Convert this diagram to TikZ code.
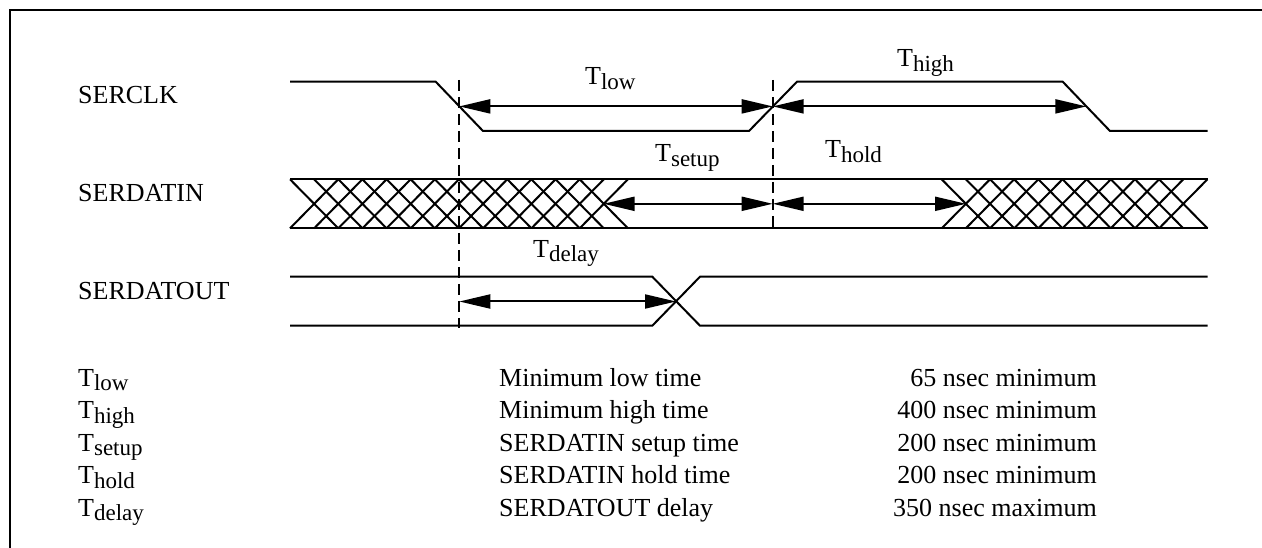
\documentclass[tikz,border=0pt]{standalone}
\usepackage{fontspec}
\setmainfont{Liberation Serif}
\usetikzlibrary{arrows.meta}
\newcommand{\Tsb}[1]{T\raisebox{-4.5pt}{\fontsize{23}{23}\selectfont #1}}
\begin{document}
\begin{tikzpicture}[x=1pt,y=-1pt,
  wave/.style={line width=2pt, line join=miter},
  guide/.style={line width=2pt, dash pattern=on 11pt off 6pt},
  dimarrow/.style={line width=2pt, {Triangle[length=31pt,width=14pt]}-{Triangle[length=31pt,width=14pt]}},
  lbl/.style={font=\fontsize{26}{30}\selectfont, inner sep=0pt, anchor=base west},
  rlbl/.style={font=\fontsize{26}{30}\selectfont, inner sep=0pt, anchor=base east},
  frameline/.style={line width=2.5pt}]
\useasboundingbox (0,0) rectangle (1262,548);
\begin{scope}
\clip (0,0) rectangle (1262,548);
\draw[frameline] (10,600) -- (10,10) -- (1300,10);
\end{scope}

% signal names
\node[lbl] (nclk) at (78,104) {SERCLK};
\node[lbl] (ndin) at (78,202) {SERDATIN};
\node[lbl] (ndout) at (78,299.5) {SERDATOUT};

% SERCLK
\draw[wave] (290,81.7) -- (435.7,81.7) -- (483,131) -- (749,131) -- (797,81.7) -- (1062.7,81.7) -- (1110,131) -- (1207.5,131);

% SERDATIN bus
\draw[wave] (290,179.3) -- (1207.5,179.3);
\draw[wave] (290,228.3) -- (1207.5,228.3);
\foreach \k in {0,...,12} {
  \draw[wave] ({290+\k*24.14},179.3) -- ({290+(\k+2)*24.14},228.3);
  \draw[wave] ({290+\k*24.14},228.3) -- ({290+(\k+2)*24.14},179.3);
}
\foreach \k in {0,...,9} {
  \draw[wave] ({941.7+\k*24.16},179.3) -- ({941.7+(\k+2)*24.16},228.3);
  \draw[wave] ({941.7+\k*24.16},228.3) -- ({941.7+(\k+2)*24.16},179.3);
}

% SERDATOUT
\draw[wave] (290,276.7) -- (652.3,276.7) -- (700,325.7) -- (1207.5,325.7);
\draw[wave] (290,325.7) -- (652.3,325.7) -- (700,276.7) -- (1207.5,276.7);

% guides
\coordinate (d1top) at (459.3,80);
\coordinate (d1bot) at (459.3,328);
\coordinate (d2top) at (772.7,80);
\coordinate (d2bot) at (772.7,229);
\draw[guide] (d1top) -- (d1bot);
\draw[guide] (d2top) -- (d2bot);

% arrow end points
\coordinate (cfall1) at (459.3,106.4);
\coordinate (crise) at (772.7,106.4);
\coordinate (cfall2) at (1086.4,106.4);
\coordinate (dinA) at (603.6,203.8);
\coordinate (dinB) at (772.7,203.8);
\coordinate (dinC) at (966,203.8);
\coordinate (doutA) at (459.3,301.5);
\coordinate (doutB) at (676,301.5);
\draw[dimarrow] (cfall1) -- (crise);
\draw[dimarrow] (crise) -- (cfall2);
\draw[dimarrow] (dinA) -- (dinB);
\draw[dimarrow] (dinB) -- (dinC);
\draw[dimarrow] (doutA) -- (doutB);

% timing labels
\node[lbl] (ltlow) at (585,85) {\Tsb{low}};
\node[lbl] (lthigh) at (897,66.7) {\Tsb{high}};
\node[lbl] (ltsetup) at (655,161.7) {\Tsb{setup}};
\node[lbl] (lthold) at (825,158) {\Tsb{hold}};
\node[lbl] (ltdelay) at (533,257.3) {\Tsb{delay}};

% legend
\node[lbl] (k1) at (78,386) {\Tsb{low}};
\node[lbl] (k2) at (78,418.5) {\Tsb{high}};
\node[lbl] (k3) at (78,451) {\Tsb{setup}};
\node[lbl] (k4) at (78,483.5) {\Tsb{hold}};
\node[lbl] (k5) at (78,516) {\Tsb{delay}};
\node[lbl] (m1) at (499,386) {Minimum low time};
\node[lbl] (m2) at (499,418.5) {Minimum high time};
\node[lbl] (m3) at (499,451) {SERDATIN setup time};
\node[lbl] (m4) at (499,483.5) {SERDATIN hold time};
\node[lbl] (m5) at (499,516) {SERDATOUT delay};
\node[rlbl] (v1) at (1097,386) {65 nsec minimum};
\node[rlbl] (v2) at (1097,418.5) {400 nsec minimum};
\node[rlbl] (v3) at (1097,451) {200 nsec minimum};
\node[rlbl] (v4) at (1097,483.5) {200 nsec minimum};
\node[rlbl] (v5) at (1097,516) {350 nsec maximum};
\end{tikzpicture}
\end{document}
